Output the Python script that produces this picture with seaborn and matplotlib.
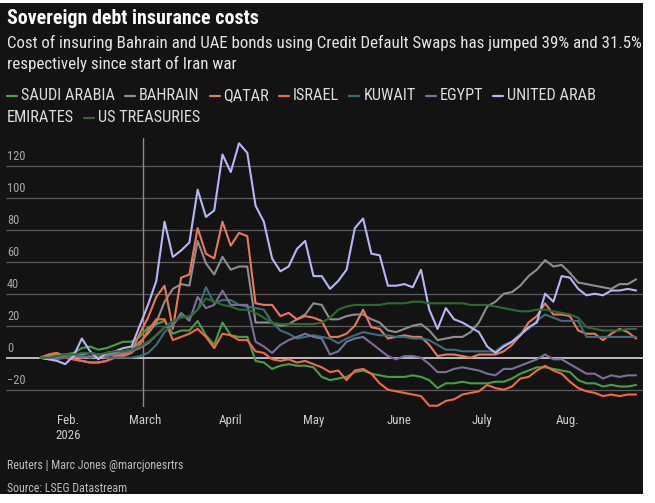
import numpy as np
import pandas as pd
import matplotlib
matplotlib.use("Agg")
import matplotlib.pyplot as plt
import matplotlib.transforms as mtransforms
from matplotlib.patches import Rectangle
from matplotlib.lines import Line2D
from matplotlib import font_manager as fm
import seaborn as sns

# ---------------- data ----------------
dates = pd.date_range("2026-01-22", periods=73, freq="3D")

series_names = ["SAUDI ARABIA", "BAHRAIN", "QATAR", "ISRAEL", "KUWAIT",
                "EGYPT", "UNITED ARAB EMIRATES", "US TREASURIES"]
series_colors = ["#43a047", "#8e8e8e", "#e8785c", "#f06a45", "#3b6e78",
                 "#7a6f9c", "#b7b5f5", "#2e6a30"]

saudi = [0, 1, 2, 2, 3, 6, 7, 5, 6, 8,
         10, 10, 13, 19, 21, 23, 15, 17, 17, 23,
         14, 8, 22, 14, 13, 13, -2, -3, -7, -5,
         -4, -5, -5, -6, -12, -14, -13, -12, -9, -8,
         -10, -11, -12, -12, -12, -11, -12, -14, -19, -16,
         -16, -15, -16, -16, -16, -15, -15, -13, -10, -8,
         -6, -6, -7, -8, -9, -14, -16, -16, -18, -17,
         -18, -18, -17]
bahrain = [0, 1, 0, 1, 2, 2, 3, 2, 2, 3,
           4, 5, 10, 15, 22, 35, 43, 46, 45, 73,
           59, 52, 63, 55, 57, 57, 22, 22, 22, 20,
           21, 24, 27, 34, 33, 24, 24, 26, 27, 27,
           24, 22, 17, 16, 18, 20, 21, 17, 11, 12,
           13, 13, 16, 22, 32, 35, 40, 41, 45, 51,
           55, 61, 57, 58, 53, 47, 46, 45, 44, 43,
           46, 46, 49]
qatar = [0, 2, 3, 0, -1, -2, -3, -3, -2, 1,
         2, 4, 15, 25, 38, 45, 18, 50, 52, 81,
         65, 62, 85, 70, 78, 76, 34, 33, 33, 26,
         28, 24, 26, 25, 23, 13, 13, 15, 20, 30,
         19, 18, 12, 13, 14, 13, 13, 8, 1, 2,
         2, 1, 0, 2, 2, 2, 4, 8, 14, 22,
         26, 34, 27, 27, 26, 17, 15, 15, 11, 15,
         18, 16, 12]
israel = [0, 2, 3, 0, -1, -2, -3, -3, -2, 0,
          1, 3, 8, 17, 24, 24, 11, 13, 15, 18,
          13, 6, 15, 14, 11, 11, 4, 3, -1, -2,
          -1, -3, -2, -4, -6, -9, -8, -14, -8, -7,
          -10, -16, -20, -21, -22, -23, -24, -30, -30, -27,
          -26, -23, -22, -21, -17, -19, -20, -18, -13, -12,
          -8, -5, -8, -10, -15, -19, -21, -22, -24, -23,
          -24, -23, -23]
kuwait = [0, 0, -1, 0, 1, 1, 0, 1, 0, 0,
          0, 0, 1, 3, 8, 16, 21, 26, 25, 30,
          44, 34, 36, 36, 33, 32, 31, 30, 22, 17,
          15, 12, 13, 14, 13, 12, 9, 12, 14, 16,
          15, 14, 14, 13, 13, 12, 12, 11, 8, 5,
          5, 4, 4, 4, 4, 4, 8, 10, 15, 18,
          23, 27, 25, 23, 23, 23, 13, 13, 13, 13,
          13, 13, 13]
egypt = [0, -1, 0, 2, 1, 0, 1, 0, 1, 2,
         3, 4, 6, 9, 14, 19, 20, 28, 23, 38,
         31, 33, 42, 33, 33, 33, 10, 7, 3, 8,
         11, 13, 15, 13, 12, 2, 4, 10, 12, 13,
         9, 5, 1, -1, 1, 1, 0, -4, -9, -9,
         -7, -6, -7, -8, -10, -11, -7, -7, -5, -3,
         -1, 2, -1, -1, -4, -7, -10, -10, -13, -11,
         -12, -11, -11]
uae = [0, -1, -2, -4, 1, 12, 4, -1, 3, 4,
       6, 7, 20, 33, 48, 85, 63, 67, 72, 105,
       88, 92, 127, 116, 134, 128, 95, 85, 62, 54,
       57, 68, 73, 51, 51, 43, 48, 55, 81, 87,
       65, 64, 45, 45, 46, 44, 55, 30, 18, 31,
       24, 22, 19, 16, 7, 3, 7, 10, 14, 19,
       22, 40, 35, 51, 50, 43, 39, 40, 39, 42,
       42, 43, 42]
treasuries = [0, 0, 1, 2, 2, 3, 3, 2, 3, 4,
              4, 5, 7, 10, 14, 19, 23, 25, 26, 30,
              37, 35, 33, 32, 30, 30, 28, 25, 22, 21,
              21, 21, 21, 21, 22, 25, 30, 32, 33, 33,
              33, 33, 34, 34, 34, 35, 35, 34, 34, 34,
              34, 34, 33, 33, 33, 32, 31, 30, 29, 29,
              30, 30, 29, 28, 27, 25, 19, 18, 17, 17,
              17, 18, 18]

series_values = [saudi, bahrain, qatar, israel, kuwait, egypt, uae, treasuries]

war_start = pd.Timestamp("2026-02-28")
month_ticks = pd.to_datetime(["2026-02-01", "2026-03-01", "2026-04-01", "2026-05-01",
                              "2026-06-01", "2026-07-01", "2026-08-01"])
month_labels = ["Feb.\n2026", "March", "April", "May", "June", "July", "Aug."]
y_ticks = [-20, 0, 20, 40, 60, 80, 100, 120]
y_labels = ["\u221220", "0", "20", "40", "60", "80", "100", "120"]

title = "Sovereign debt insurance costs"
subtitle_1 = "Cost of insuring Bahrain and UAE bonds using Credit Default Swaps has jumped 39% and 31.5%"
subtitle_2 = "respectively since start of Iran war"
footer_1 = "Reuters | Marc Jones @marcjonesrtrs"
footer_2 = "Source: LSEG Datastream"

# ---------------- style ----------------
BG = "#131313"
W, H = 655, 503

sns.set_theme(style="dark")


def pick(fams):
    for f in fams:
        try:
            fm.findfont(fm.FontProperties(family=f), fallback_to_default=False)
            return f
        except Exception:
            pass
    return "DejaVu Sans"


FONT = pick(["Liberation Sans Narrow", "Roboto Condensed", "Lato", "Roboto"])
plt.rcParams["font.family"] = [FONT, "DejaVu Sans"]

fig = plt.figure(figsize=(W / 100, H / 100), dpi=100, facecolor="white")
fig.patches.append(Rectangle((0, 9 / H), 643 / W, (494 - 3) / H, transform=fig.transFigure,
                             facecolor=BG, edgecolor="none", zorder=-10))
renderer = fig.canvas.get_renderer()


def fx(px):
    return px / W


def fy(py):
    return 1 - py / H


def size_for(text, target_px, weight="normal"):
    t = fig.text(0, 0, text, fontsize=10, fontweight=weight)
    w = t.get_window_extent(renderer).width
    t.remove()
    return 10 * target_px / w


ax = fig.add_axes([fx(6), fy(407), (643 - 6) / W, (407 - 138) / H])
ax.set_facecolor("none")

long_df = pd.concat([pd.DataFrame({"date": dates, "value": vals, "series": name})
                     for name, vals in zip(series_names, series_values)], ignore_index=True)

# grid lines
for v in y_ticks:
    if v == 0:
        ax.axhline(v, color="#c9c9c9", lw=1.3, zorder=3)
    else:
        ax.axhline(v, color="#5c5c5c", lw=0.9, zorder=1)

ax.axvline(war_start, color="#b57485", lw=1.0, zorder=2)

sns.lineplot(data=long_df, x="date", y="value", hue="series", hue_order=series_names,
             palette=dict(zip(series_names, series_colors)), linewidth=1.5,
             legend=False, ax=ax, zorder=4)

ax.set_xlim(pd.Timestamp("2026-02-01") - pd.Timedelta(days=22.5),
            pd.Timestamp("2026-02-01") + pd.Timedelta(days=208.5))
ax.set_ylim(-30.8, 137.3)
for s in ax.spines.values():
    s.set_visible(False)
ax.grid(False)
ax.set_xlabel("")
ax.set_ylabel("")

tick_fs = size_for("March", 32)
ax.set_xticks(month_ticks)
ax.set_xticklabels(month_labels, color="#cfcfcf", fontsize=tick_fs, linespacing=1.25)
ax.tick_params(axis="x", length=0, pad=5)
ax.set_yticks([])

ylab_fs = size_for("120", 18)
blend = mtransforms.blended_transform_factory(ax.transAxes, ax.transData)
off = mtransforms.ScaledTranslation(1 / 100, 2.5 / 100, fig.dpi_scale_trans)
for v, lab in zip(y_ticks, y_labels):
    ax.text(0, v, lab, transform=blend + off, ha="left", va="bottom",
            color="#a8a8a8", fontsize=ylab_fs, zorder=5)

# titles
fig.text(fx(7), fy(18), title, fontsize=size_for(title, 251, "bold"), fontweight="bold",
         color="white", ha="left", va="center")
sub_fs = size_for(subtitle_1, 631)
fig.text(fx(7), fy(43), subtitle_1, fontsize=sub_fs, color="#e6e6e6", ha="left", va="center")
fig.text(fx(7), fy(64), subtitle_2, fontsize=sub_fs, color="#e6e6e6", ha="left", va="center")

# legend (manual, wrapping)
leg_fs = size_for("SAUDI ARABIA", 93)
x = 7.0
line_y = [96, 118]
row = 0
right_limit = 640
for name, col in zip(series_names, series_colors):
    words = name.split(" ")
    need = 10 + 4
    tmp = fig.text(0, 0, words[0], fontsize=leg_fs)
    fw = tmp.get_window_extent(renderer).width
    tmp.remove()
    if x + need + fw > right_limit:
        row += 1
        x = 7.0
    fig.add_artist(Line2D([fx(x), fx(x + 10)], [fy(line_y[row])] * 2, color=col, lw=1.6,
                          transform=fig.transFigure))
    x += 14
    cur = ""
    for wd in words:
        trial = (cur + " " + wd).strip()
        t = fig.text(0, 0, trial, fontsize=leg_fs)
        tw = t.get_window_extent(renderer).width
        t.remove()
        if x + tw > right_limit and cur:
            fig.text(fx(x), fy(line_y[row]), cur, fontsize=leg_fs, color="#dcdcdc",
                     ha="left", va="center")
            row += 1
            x = 7.0
            cur = wd
        else:
            cur = trial
    t = fig.text(fx(x), fy(line_y[row]), cur, fontsize=leg_fs, color="#dcdcdc",
                 ha="left", va="center")
    x += t.get_window_extent(renderer).width + 10

# footer
foot_fs = size_for(footer_1, 175)
fig.text(fx(7), fy(466), footer_1, fontsize=foot_fs, color="#bdbdbd", ha="left", va="center")
fig.text(fx(7), fy(488), footer_2, fontsize=foot_fs, color="#bdbdbd", ha="left", va="center")

fig.savefig("out.png", dpi=100, facecolor=fig.get_facecolor())
